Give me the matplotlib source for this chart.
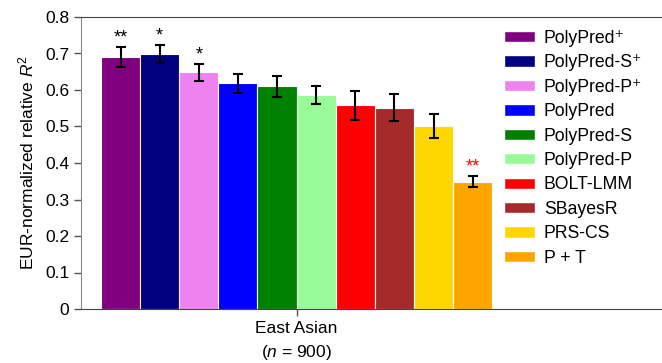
import matplotlib
matplotlib.use('Agg')
import matplotlib.pyplot as plt
from matplotlib.patches import Patch

plt.rcParams['font.family'] = ['Liberation Sans', 'DejaVu Sans']
plt.rcParams['mathtext.fontset'] = 'custom'
plt.rcParams['mathtext.rm'] = 'Liberation Sans'
plt.rcParams['mathtext.it'] = 'Liberation Sans:italic'

# data
methods = ['PolyPred\u207a', 'PolyPred-S\u207a', 'PolyPred-P\u207a', 'PolyPred',
           'PolyPred-S', 'PolyPred-P', 'BOLT-LMM', 'SBayesR', 'PRS-CS', 'P + T']
values = [0.690, 0.699, 0.648, 0.618, 0.610, 0.587, 0.558, 0.551, 0.501, 0.349]
errors = [0.028, 0.025, 0.023, 0.025, 0.028, 0.025, 0.039, 0.037, 0.033, 0.016]
stars = ['**', '*', '*', '', '', '', '', '', '', '**']
star_colors = ['black', 'black', 'black', 'black', 'black',
               'black', 'black', 'black', 'black', 'red']
colors = ['#800080', '#000080', '#EE82EE', '#0000FF', '#008000',
          '#98FB98', '#FF0000', '#A52A2A', '#FFD700', '#FFA500']
group_label = 'East Asian\n($\\it{n}$ = 900)'

fig = plt.figure(figsize=(6.62, 3.63), dpi=100)
ax = fig.add_axes([81 / 662, 54 / 363, 1 - 81 / 662, 292 / 363])

x = list(range(len(values)))
ax.bar(x, values, width=1.0, color=colors, edgecolor='white', linewidth=0.8)
ax.errorbar(x, values, yerr=errors, fmt='none', ecolor='black',
            elinewidth=1.5, capsize=3.5, capthick=1.5)

for xi, v, e, s, c in zip(x, values, errors, stars, star_colors):
    if s:
        ax.text(xi, v + e + 0.002, s, ha='center', va='bottom',
                fontsize=13, color=c)

ax.set_xlim(-1.01, 13.84)
ax.set_ylim(0, 0.8)
ax.set_yticks([0, 0.1, 0.2, 0.3, 0.4, 0.5, 0.6, 0.7, 0.8])
ax.set_yticklabels(['0', '0.1', '0.2', '0.3', '0.4', '0.5', '0.6', '0.7', '0.8'])
ax.set_xticks([4.5])
ax.set_xticklabels([group_label], linespacing=1.5)
ax.tick_params(axis='both', labelsize=12.5, length=5, width=1, color='#555555')
ax.set_ylabel('EUR-normalized relative $\\it{R}^2$', fontsize=12.5, labelpad=6)

ax.spines['right'].set_visible(False)
ax.spines['left'].set_color('#888888')
ax.spines['top'].set_color('#444444')
ax.spines['bottom'].set_color('#444444')

handles = [Patch(facecolor=c, edgecolor='white') for c in colors]
ax.legend(handles, methods, loc='upper left', bbox_to_anchor=(0.716, 0.98),
          frameon=False, fontsize=12.7, handlelength=1.75, handleheight=0.6,
          labelspacing=0.42, handletextpad=0.5, borderaxespad=0)

fig.savefig('out.png', dpi=100)
